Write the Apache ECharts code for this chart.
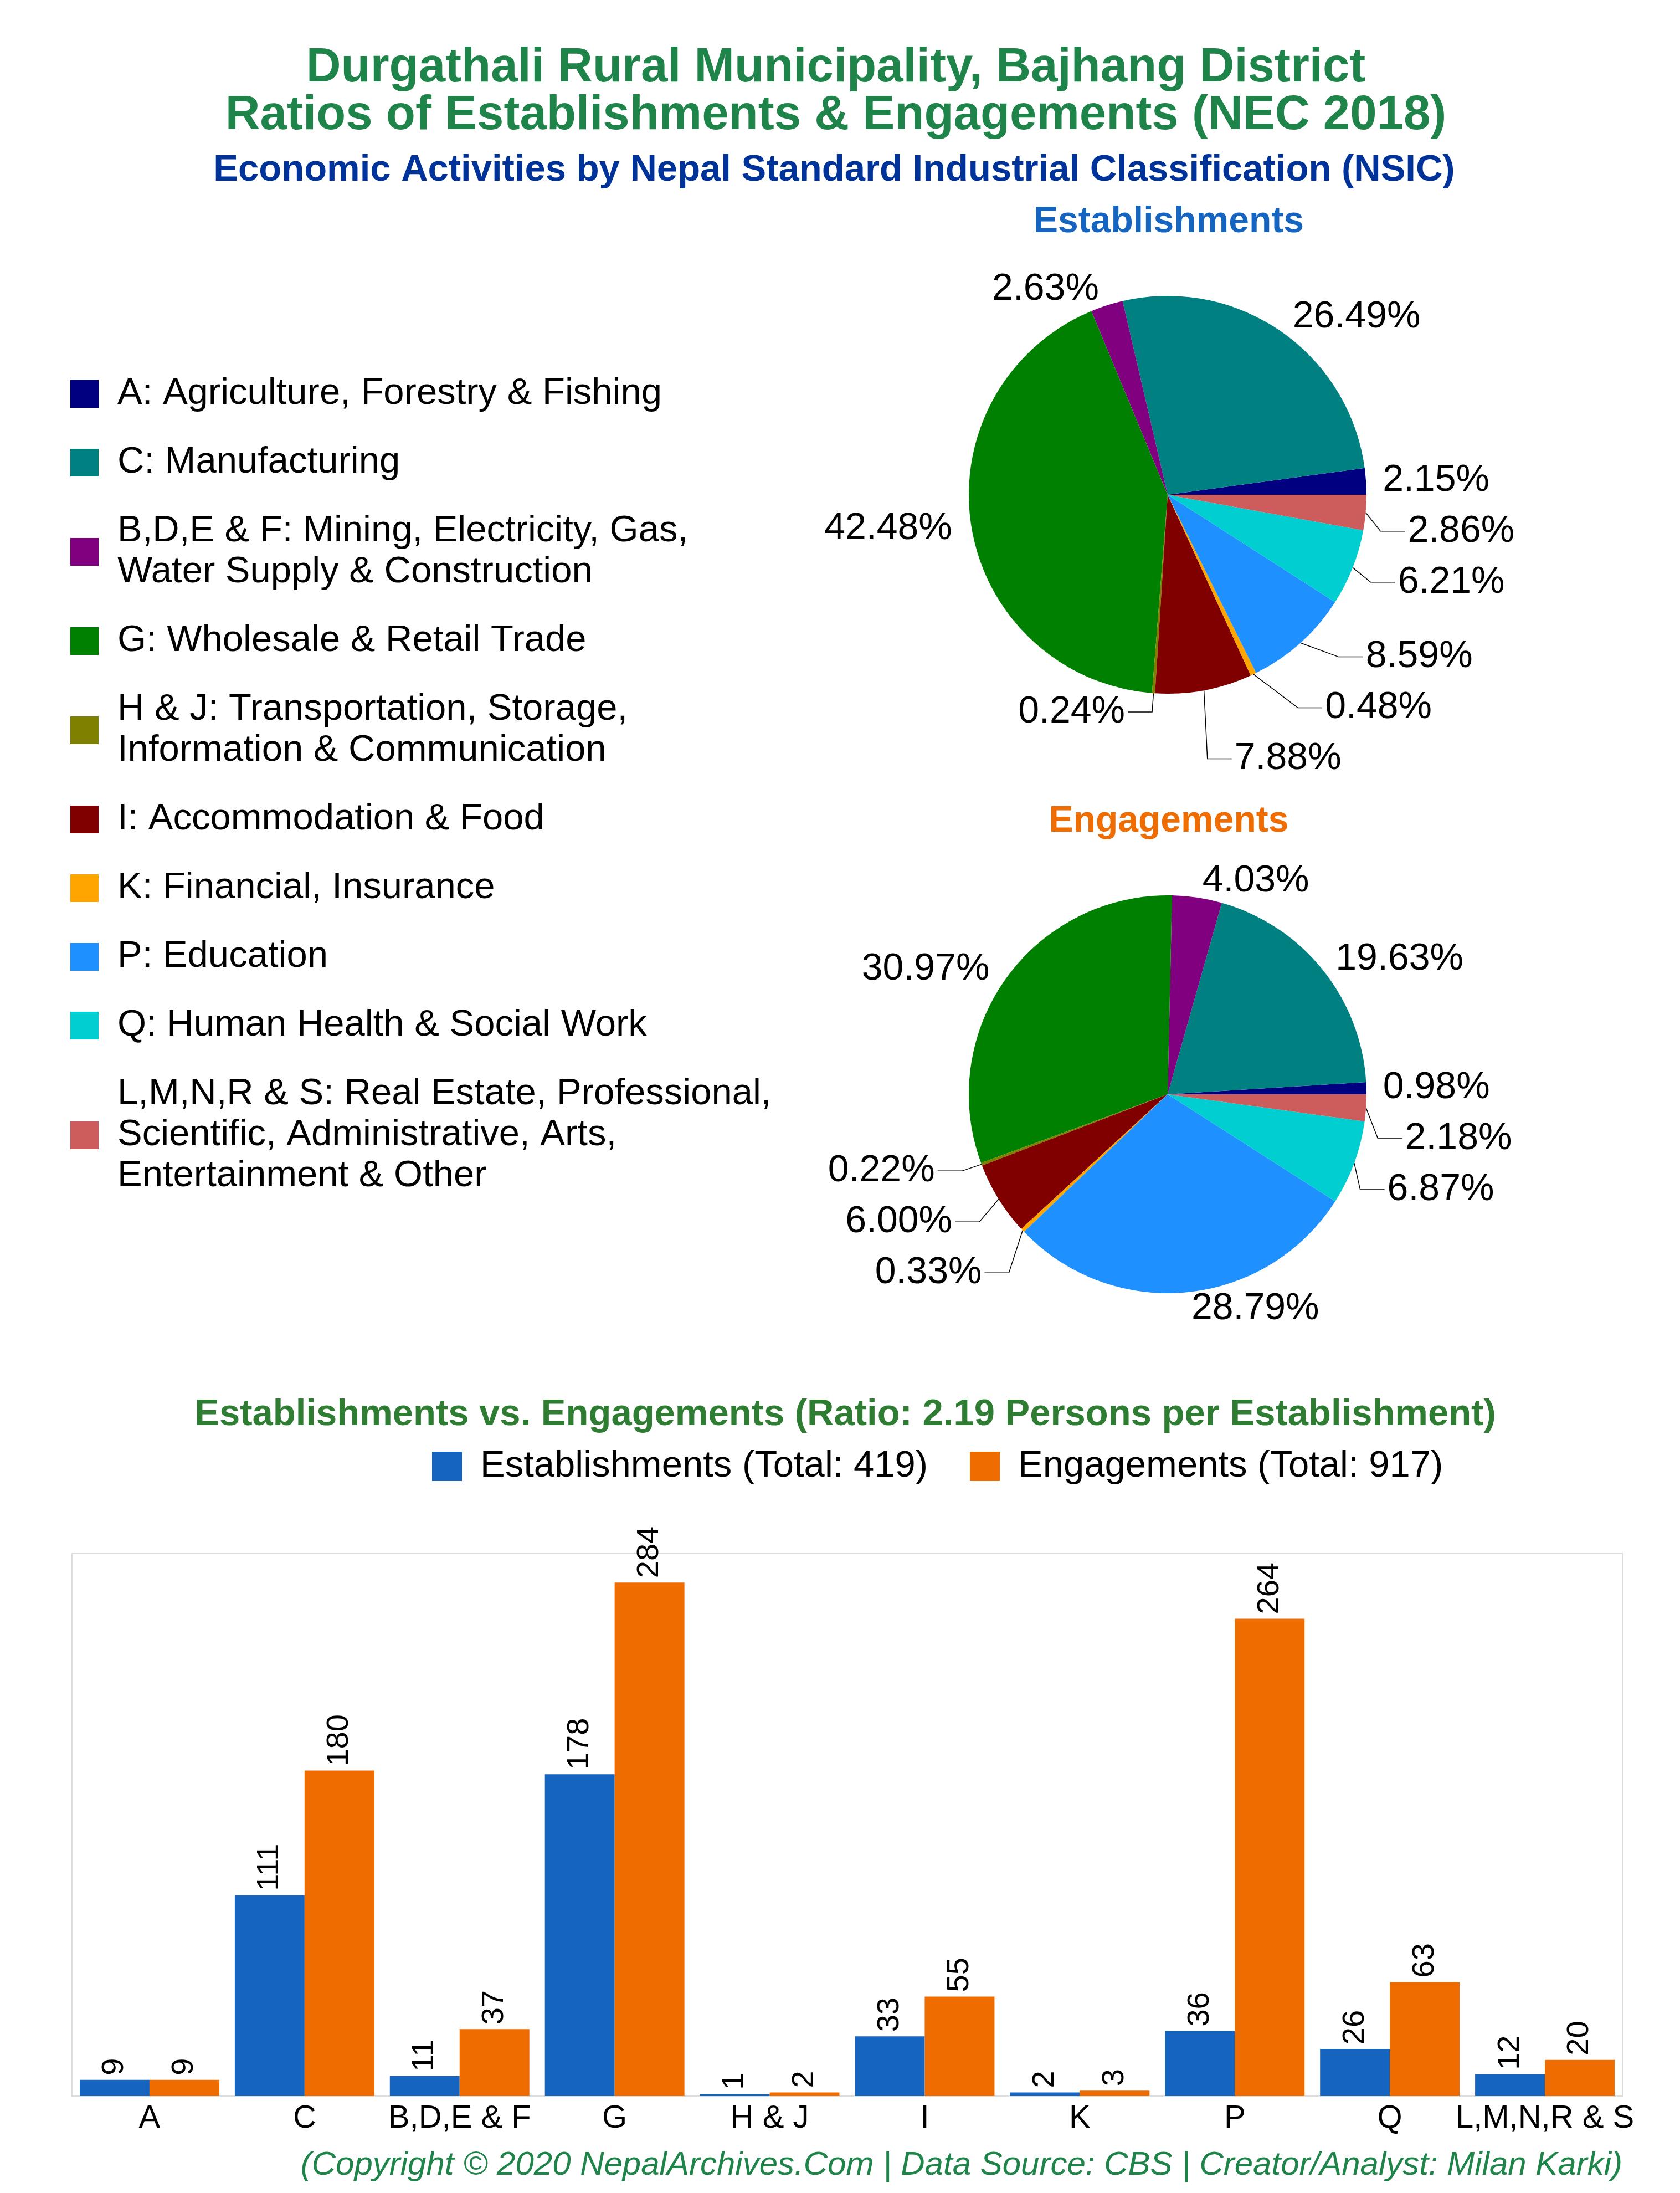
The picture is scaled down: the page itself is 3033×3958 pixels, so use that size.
<!DOCTYPE html>
<html>
<head>
<meta charset="utf-8">
<script src="https://cdn.jsdelivr.net/npm/echarts@6/dist/echarts.min.js"></script>
<style>
html,body{margin:0;padding:0;background:#fff;}
#chart{width:3033px;height:3958px;}
</style>
</head>
<body>
<div id="chart"></div>
<script>
// ---------- data ----------
const sectorCodes = ['A', 'C', 'B,D,E & F', 'G', 'H & J', 'I', 'K', 'P', 'Q', 'L,M,N,R & S'];
const sectorNames = [
  'A: Agriculture, Forestry & Fishing',
  'C: Manufacturing',
  'B,D,E & F: Mining, Electricity, Gas,\nWater Supply & Construction',
  'G: Wholesale & Retail Trade',
  'H & J: Transportation, Storage,\nInformation & Communication',
  'I: Accommodation & Food',
  'K: Financial, Insurance',
  'P: Education',
  'Q: Human Health & Social Work',
  'L,M,N,R & S: Real Estate, Professional,\nScientific, Administrative, Arts,\nEntertainment & Other'
];
const establishments = [9, 111, 11, 178, 1, 33, 2, 36, 26, 12];
const engagements = [9, 180, 37, 284, 2, 55, 3, 264, 63, 20];

// ---------- styles ----------
const sectorColors = ['#000080', '#008080', '#800080', '#008000', '#808000', '#800000', '#FFA500', '#1E90FF', '#00CED1', '#CD5C5C'];
const estLeader = [false, false, false, false, true, true, true, true, true, true];
const engLeader = [false, false, false, false, true, true, true, false, true, true];
const FONT = '"Liberation Sans", Arial, sans-serif';

const sum = a => a.reduce((s, v) => s + v, 0);
const estTotal = sum(establishments);
const engTotal = sum(engagements);
const ratio = (engTotal / estTotal).toFixed(2);

function pieData(values, leader) {
  return values.map((v, i) => ({
    name: sectorNames[i],
    value: v,
    labelLine: leader[i]
      ? { show: true, length: 34, length2: 44 }
      : { show: false, length: 30, length2: 0 }
  }));
}

function pieSeries(values, leader, center) {
  const total = sum(values);
  return {
    type: 'pie',
    center: center,
    radius: 359,
    startAngle: 0,
    clockwise: false,
    avoidLabelOverlap: true,
    data: pieData(values, leader),
    label: {
      show: true,
      position: 'outside',
      fontSize: 68,
      lineHeight: 90,
      fontFamily: FONT,
      color: '#000',
      formatter: p => (p.value / total * 100).toFixed(2) + '%'
    },
    labelLine: { lineStyle: { color: '#000', width: 1.5 } },
    itemStyle: { borderWidth: 0 },
    emphasis: { disabled: true }
  };
}

function txt(text, x, y, size, weight, color, align, style) {
  return {
    type: 'text', x: x, y: y, silent: true,
    style: {
      text: text, fill: color,
      fontSize: size, fontWeight: weight, fontFamily: FONT, fontStyle: style || 'normal',
      textAlign: align || 'center', align: align || 'center',
      textVerticalAlign: 'middle', verticalAlign: 'middle'
    }
  };
}

const chart = echarts.init(document.getElementById('chart'));
const option = {
  animation: false,
  color: sectorColors,
  textStyle: { fontFamily: FONT },
  graphic: [
    txt('Durgathali Rural Municipality, Bajhang District', 1509, 123, 87, 'bold', '#1e8449'),
    txt('Ratios of Establishments & Engagements (NEC 2018)', 1509, 209, 87, 'bold', '#1e8449'),
    txt('Economic Activities by Nepal Standard Industrial Classification (NSIC)', 1506, 308, 67, 'bold', '#003399'),
    txt('Establishments', 2110, 401, 66, 'bold', '#1565C0'),
    txt('Engagements', 2110, 1483, 66, 'bold', '#EF6C00'),
    txt('Establishments vs. Engagements (Ratio: ' + ratio + ' Persons per Establishment)', 1526, 2554, 67, 'bold', '#2E7D32'),
    txt('(Copyright \u00A9 2020 NepalArchives.Com | Data Source: CBS | Creator/Analyst: Milan Karki)', 2929, 3908, 60, 'normal', '#1e8449', 'right', 'italic')
  ],
  legend: [
    {
      orient: 'vertical',
      left: 127,
      top: 674,
      padding: 0,
      itemGap: 50,
      itemWidth: 51,
      itemHeight: 50,
      icon: 'rect',
      selectedMode: false,
      data: sectorNames,
      textStyle: { fontSize: 67, lineHeight: 74, color: '#000', fontFamily: FONT, padding: [0, 0, 0, 29] }
    },
    {
      orient: 'horizontal',
      left: 780,
      top: 2613,
      padding: 0,
      itemGap: 76,
      itemWidth: 54,
      itemHeight: 53,
      icon: 'rect',
      selectedMode: false,
      data: ['Establishments (Total: ' + estTotal + ')', 'Engagements (Total: ' + engTotal + ')'],
      textStyle: { fontSize: 67, color: '#000', fontFamily: FONT, padding: [0, 0, 0, 28] }
    }
  ],
  grid: {
    left: 130, right: 104, top: 2804, bottom: 175,
    show: true, borderColor: '#dddddd', borderWidth: 2, backgroundColor: '#fff'
  },
  xAxis: {
    type: 'category',
    data: sectorCodes,
    axisLine: { lineStyle: { color: '#dddddd', width: 2 } },
    axisTick: { show: false },
    axisLabel: { interval: 0, fontSize: 58, color: '#000', margin: 12, fontFamily: FONT }
  },
  yAxis: { type: 'value', min: 0, max: 300, show: false, splitLine: { show: false } },
  series: [
    pieSeries(establishments, estLeader, [2108, 893]),
    pieSeries(engagements, engLeader, [2108, 1975]),
    {
      type: 'bar',
      name: 'Establishments (Total: ' + estTotal + ')',
      data: establishments,
      itemStyle: { color: '#1565C0' },
      barGap: '0%',
      barCategoryGap: '10%',
      label: { show: true, position: 'top', rotate: 90, align: 'left', verticalAlign: 'middle', distance: 8, fontSize: 56, color: '#000', fontFamily: FONT },
      emphasis: { disabled: true }
    },
    {
      type: 'bar',
      name: 'Engagements (Total: ' + engTotal + ')',
      data: engagements,
      itemStyle: { color: '#EF6C00' },
      barGap: '0%',
      barCategoryGap: '10%',
      label: { show: true, position: 'top', rotate: 90, align: 'left', verticalAlign: 'middle', distance: 8, fontSize: 56, color: '#000', fontFamily: FONT },
      emphasis: { disabled: true }
    }
  ]
};
chart.setOption(option);
</script>
</body>
</html>
